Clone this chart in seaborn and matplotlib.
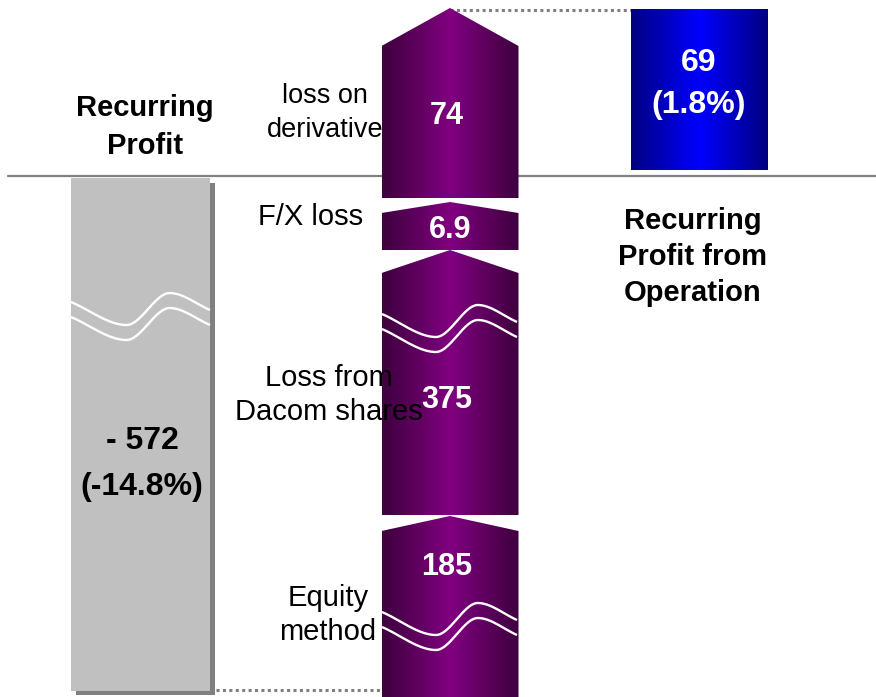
import numpy as np
import matplotlib
matplotlib.use("Agg")
import matplotlib.pyplot as plt
import seaborn as sns
from matplotlib.patches import Polygon

# ---- data ----
start_label = "Recurring\nProfit"
start_value = -572
start_pct = -14.8
item_labels = ["loss on\nderivative", "F/X loss", "Loss from\nDacom shares", "Equity\nmethod"]
item_values = [74, 6.9, 375, 185]          # listed top to bottom
end_label = "Recurring\nProfit from\nOperation"
end_value = 69
end_pct = 1.8

sns.set_theme(style="white")
plt.rcParams["font.family"] = ["Liberation Sans", "DejaVu Sans"]
plt.rcParams["text.color"] = "black"

W, H = 876, 697
fig = plt.figure(figsize=(W / 100, H / 100), dpi=100)
ax = fig.add_axes([0, 0, 1, 1])
ax.axis("off")

# levels of the stacked bridge (bottom -> top)
levels = start_value + np.concatenate([[0], np.cumsum(item_values[::-1])])

# broken value axis: the bars are not to scale, so the scale is piecewise
scale_vals = np.array([levels[0] - 30, *levels[:4], 0, levels[4], levels[4] + 12])
scale_px = np.array([720, 691, 515, 250, 198, 176, 8, -20])


def fwd(v):
    return np.interp(v, scale_vals, H - scale_px)


def inv(d):
    return np.interp(d, H - scale_px, scale_vals)


ax.set_yscale("function", functions=(fwd, inv))
ax.set_xlim(0, W)
ax.set_ylim(inv(0), inv(H))
ax.set_autoscale_on(False)


def at_px(py):
    return inv(H - np.asarray(py, dtype=float))


def off(v, dpx):
    # move a level dpx pixels down
    return inv(fwd(v) - dpx)


purple = sns.blend_palette(["#3e003e", "#800080", "#3e003e"], as_cmap=True)
blue = sns.blend_palette(["#000080", "#0000ff", "#000080"], as_cmap=True)
grad = np.linspace(0, 1, 256)[None, :]


def gradient_shape(verts, x0, x1, cmap, z=2):
    poly = Polygon(verts, closed=True, transform=ax.transData,
                   facecolor="none", edgecolor="none")
    im = ax.imshow(grad, cmap=cmap, extent=[x0 / W, x1 / W, 0, 1],
                   transform=ax.transAxes, aspect="auto",
                   interpolation="bilinear", zorder=z)
    im.set_clip_path(poly)


def wave(x0, x1, py0):
    # two parallel white break lines
    kt = np.array([0, 0.4, 0.71, 1.0])
    kd = np.array([0, 23, -9, 8.0])
    ks = np.array([23 / 0.4, 0, 0, 17 / 0.29])
    t = np.linspace(0, 1, 150)
    d = np.zeros_like(t)
    for i in range(3):
        m = (t >= kt[i]) & (t <= kt[i + 1])
        h = kt[i + 1] - kt[i]
        s = (t[m] - kt[i]) / h
        h00 = 2 * s**3 - 3 * s**2 + 1
        h10 = s**3 - 2 * s**2 + s
        h01 = -2 * s**3 + 3 * s**2
        h11 = s**3 - s**2
        d[m] = h00 * kd[i] + h10 * h * ks[i] + h01 * kd[i + 1] + h11 * h * ks[i + 1]
    xs = x0 + t * (x1 - x0)
    for dy in (0, 15):
        ax.plot(xs, at_px(py0 + d + dy), color="white", lw=1.7, zorder=4,
                solid_capstyle="butt")


grey = "#808080"

# baseline
ax.axhline(0, xmin=8 / W, xmax=1, color=grey, lw=1.6, zorder=1)

# starting bar (grey with shadow)
gx0, gx1 = 71, 210
g_top, g_bot = off(0, 2), levels[0]
ax.add_patch(Polygon([(gx0 + 5, off(g_top, 5)), (gx1 + 5, off(g_top, 5)),
                      (gx1 + 5, off(g_bot, 4)), (gx0 + 5, off(g_bot, 4))],
                     closed=True, facecolor=grey, edgecolor="none", zorder=2))
ax.add_patch(Polygon([(gx0, g_top), (gx1, g_top), (gx1, g_bot), (gx0, g_bot)],
                     closed=True, facecolor="#c0c0c0", edgecolor="none", zorder=3))
wave(gx0, gx1, 302)

# stacked arrows
sx0, sx1 = 381.5, 518.5
sxc = (sx0 + sx1) / 2
tops = levels[::-1][:-1]
bots = levels[::-1][1:]
head_px = [38, 11, 23, 15]
gap_px = [0, 4, 0, 1]
for i in range(len(item_values)):
    tip = off(tops[i], gap_px[i])
    sh = off(tip, head_px[i])
    bot = bots[i] if i < len(item_values) - 1 else off(bots[i], 20)
    verts = [(sx0, sh), (sxc, tip), (sx1, sh), (sx1, bot), (sx0, bot)]
    gradient_shape(verts, sx0, sx1, purple)

wave(382, 517, 314)
wave(382, 517, 612)

# ending bar
bx0, bx1 = 631, 768
gradient_shape([(bx0, off(0, -6)), (bx1, off(0, -6)), (bx1, off(end_value, 1.5)),
                (bx0, off(end_value, 1.5))], bx0, bx1, blue)

# dotted connectors
ax.plot([sxc, 677], [at_px(10), at_px(10)], color=grey, lw=2.2,
        dashes=(1, 1.1), dash_capstyle="butt", zorder=1)
ax.plot([216, 382], [at_px(690), at_px(690)], color=grey, lw=2.2,
        dashes=(1, 1.1), dash_capstyle="butt", zorder=1)

# texts
ax.text(145, at_px(127), start_label, ha="center", va="center",
        fontsize=21, fontweight="bold", color="black", linespacing=1.42, zorder=6)
ax.text(142, at_px(464), f"- {abs(start_value)}\n({start_pct}%)", ha="center",
        va="center", fontsize=23, fontweight="bold", color="black",
        linespacing=1.66, zorder=6)

label_pos = [(325, 113), (311, 217), (329, 395), (328, 615)]
label_size = [19.5, 21, 21, 21]
label_spacing = [1.4, 1.24, 1.24, 1.24]
value_pos = [(447, 116), (450, 230), (447, 400), (447, 567)]
for lab, v, (lx, ly), fs, ls, (vx, vy) in zip(item_labels, item_values, label_pos,
                                              label_size, label_spacing, value_pos):
    ax.text(lx, at_px(ly), lab, ha="center", va="center", fontsize=fs,
            color="black", linespacing=ls, zorder=6)
    ax.text(vx, at_px(vy), f"{v:g}", ha="center", va="center", fontsize=22,
            fontweight="bold", color="white", zorder=6)

ax.text(699, at_px(84), f"{end_value}\n({end_pct}%)", ha="center", va="center",
        fontsize=23, fontweight="bold", color="white", linespacing=1.52, zorder=6)
ax.text(693, at_px(257), end_label, ha="center", va="center", fontsize=21,
        fontweight="bold", color="black", linespacing=1.36, zorder=6)

ax.set_xlim(0, W)
ax.set_ylim(inv(0), inv(H))
fig.savefig("out.png", dpi=100, facecolor="white")
